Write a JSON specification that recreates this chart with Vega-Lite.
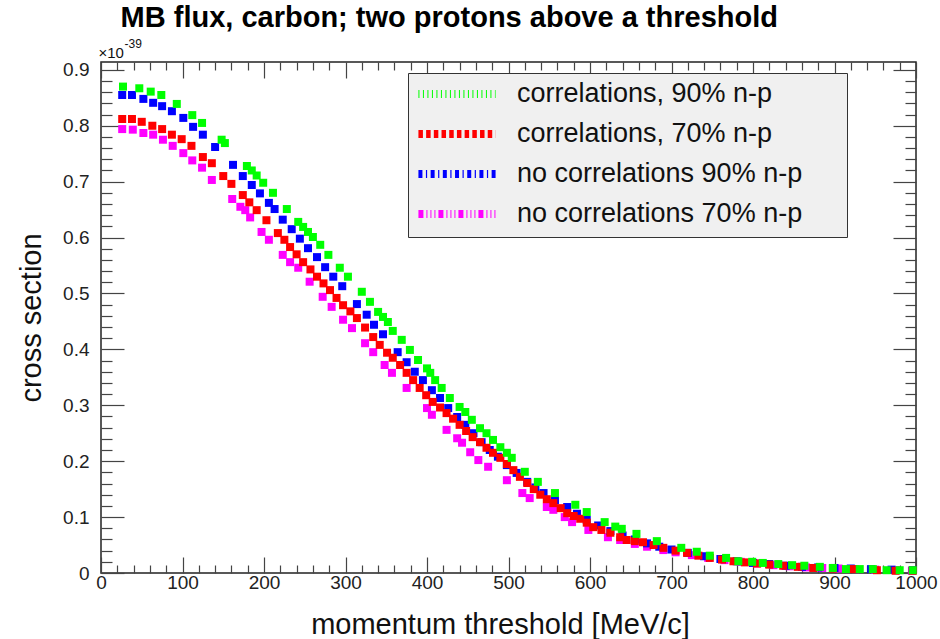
{
  "$schema": "https://vega.github.io/schema/vega-lite/v6.json",
  "width": 815,
  "height": 511,
  "autosize": {"type": "none"},
  "padding": {"left": 101, "top": 62, "right": 24, "bottom": 66},
  "background": "white",
  "title": {"text": "MB flux, carbon; two protons above a threshold", "anchor": "start", "dx": 103, "dy": 29, "fontSize": 29, "fontWeight": "bold", "font": "Liberation Sans", "color": "#000", "offset": 10, "baseline": "alphabetic"},
  "config": {
    "font": "Liberation Sans",
    "view": {"stroke": "#222", "strokeWidth": 1.5},
    "axis": {"domain": false, "grid": false, "labelFont": "Liberation Sans", "labelFontSize": 19, "labelColor": "#222", "tickColor": "#444", "tickWidth": 1.2, "titleFont": "Liberation Sans", "titleFontWeight": "normal", "titleColor": "#111", "titleFontSize": 29, "labelOverlap": false, "labelFlush": false},
    "legend": {"orient": "none", "legendX": 307, "legendY": 11, "symbolType": "M-4,0H4", "symbolSize": 372, "symbolStrokeWidth": 8, "labelFontSize": 27, "labelFont": "Liberation Sans", "labelColor": "#111", "fillColor": "#f0f0f0", "strokeColor": "#333", "padding": 7, "rowPadding": 8, "symbolOffset": 28, "labelOffset": 46, "labelLimit": 600, "titleOrient": "right", "titlePadding": 38, "titleFontSize": 10, "titleColor": "#f0f0f0"}
  },
  "datasets": {
    "low": [
      {"series": "no correlations 70% n-p", "p": 26, "xs": 0.794},
      {"series": "no correlations 70% n-p", "p": 39, "xs": 0.793},
      {"series": "no correlations 70% n-p", "p": 52, "xs": 0.787},
      {"series": "no correlations 70% n-p", "p": 64, "xs": 0.784},
      {"series": "no correlations 70% n-p", "p": 76, "xs": 0.775},
      {"series": "no correlations 70% n-p", "p": 88, "xs": 0.764},
      {"series": "no correlations 70% n-p", "p": 101, "xs": 0.751},
      {"series": "no correlations 70% n-p", "p": 112, "xs": 0.738},
      {"series": "no correlations 70% n-p", "p": 124, "xs": 0.725},
      {"series": "no correlations 70% n-p", "p": 136, "xs": 0.703},
      {"series": "no correlations 70% n-p", "p": 161, "xs": 0.669},
      {"series": "no correlations 70% n-p", "p": 171, "xs": 0.655},
      {"series": "no correlations 70% n-p", "p": 177, "xs": 0.649},
      {"series": "no correlations 70% n-p", "p": 183, "xs": 0.636},
      {"series": "no correlations 70% n-p", "p": 197, "xs": 0.610},
      {"series": "no correlations 70% n-p", "p": 206, "xs": 0.596},
      {"series": "no correlations 70% n-p", "p": 223, "xs": 0.569},
      {"series": "no correlations 70% n-p", "p": 232, "xs": 0.556},
      {"series": "no correlations 70% n-p", "p": 242, "xs": 0.546},
      {"series": "no correlations 70% n-p", "p": 256, "xs": 0.521},
      {"series": "no correlations 70% n-p", "p": 272, "xs": 0.494},
      {"series": "no correlations 70% n-p", "p": 283, "xs": 0.476},
      {"series": "no correlations 70% n-p", "p": 297, "xs": 0.453},
      {"series": "no correlations 70% n-p", "p": 308, "xs": 0.438},
      {"series": "no correlations 70% n-p", "p": 324, "xs": 0.411},
      {"series": "no correlations 70% n-p", "p": 334, "xs": 0.395},
      {"series": "no correlations 70% n-p", "p": 348, "xs": 0.372},
      {"series": "no correlations 70% n-p", "p": 357, "xs": 0.358},
      {"series": "no correlations 70% n-p", "p": 375, "xs": 0.331},
      {"series": "no correlations 70% n-p", "p": 400, "xs": 0.295},
      {"series": "no correlations 70% n-p", "p": 406, "xs": 0.283},
      {"series": "no correlations 70% n-p", "p": 424, "xs": 0.256},
      {"series": "no correlations 70% n-p", "p": 437, "xs": 0.241},
      {"series": "no correlations 70% n-p", "p": 443, "xs": 0.233},
      {"series": "no correlations 70% n-p", "p": 453, "xs": 0.216},
      {"series": "no correlations 70% n-p", "p": 463, "xs": 0.202},
      {"series": "no correlations 70% n-p", "p": 475, "xs": 0.190},
      {"series": "no correlations 70% n-p", "p": 498, "xs": 0.166},
      {"series": "no correlations 70% n-p", "p": 517, "xs": 0.143},
      {"series": "no correlations 70% n-p", "p": 526, "xs": 0.134},
      {"series": "no correlations 70% n-p", "p": 547, "xs": 0.118},
      {"series": "no correlations 70% n-p", "p": 555, "xs": 0.113},
      {"series": "no correlations 70% n-p", "p": 569, "xs": 0.100},
      {"series": "no correlations 70% n-p", "p": 578, "xs": 0.091},
      {"series": "no correlations 70% n-p", "p": 598, "xs": 0.077},
      {"series": "no correlations 70% n-p", "p": 622, "xs": 0.064},
      {"series": "no correlations 70% n-p", "p": 637, "xs": 0.059},
      {"series": "no correlations 70% n-p", "p": 655, "xs": 0.052},
      {"series": "no correlations 70% n-p", "p": 670, "xs": 0.047},
      {"series": "no correlations 70% n-p", "p": 690, "xs": 0.041},
      {"series": "no correlations 70% n-p", "p": 705, "xs": 0.037},
      {"series": "no correlations 70% n-p", "p": 725, "xs": 0.032},
      {"series": "no correlations 70% n-p", "p": 745, "xs": 0.027},
      {"series": "no correlations 70% n-p", "p": 765, "xs": 0.023},
      {"series": "no correlations 70% n-p", "p": 785, "xs": 0.020},
      {"series": "no correlations 70% n-p", "p": 805, "xs": 0.017},
      {"series": "no correlations 70% n-p", "p": 825, "xs": 0.014},
      {"series": "no correlations 70% n-p", "p": 845, "xs": 0.012},
      {"series": "no correlations 70% n-p", "p": 865, "xs": 0.010},
      {"series": "no correlations 70% n-p", "p": 885, "xs": 0.009},
      {"series": "no correlations 70% n-p", "p": 905, "xs": 0.008},
      {"series": "no correlations 70% n-p", "p": 925, "xs": 0.007},
      {"series": "no correlations 70% n-p", "p": 950, "xs": 0.006},
      {"series": "no correlations 70% n-p", "p": 975, "xs": 0.005},
      {"series": "no correlations 70% n-p", "p": 995, "xs": 0.004},
      {"series": "no correlations 90% n-p", "p": 26, "xs": 0.855},
      {"series": "no correlations 90% n-p", "p": 38, "xs": 0.855},
      {"series": "no correlations 90% n-p", "p": 52, "xs": 0.848},
      {"series": "no correlations 90% n-p", "p": 64, "xs": 0.841},
      {"series": "no correlations 90% n-p", "p": 75, "xs": 0.835},
      {"series": "no correlations 90% n-p", "p": 87, "xs": 0.826},
      {"series": "no correlations 90% n-p", "p": 101, "xs": 0.814},
      {"series": "no correlations 90% n-p", "p": 113, "xs": 0.798},
      {"series": "no correlations 90% n-p", "p": 125, "xs": 0.784},
      {"series": "no correlations 90% n-p", "p": 140, "xs": 0.762},
      {"series": "no correlations 90% n-p", "p": 162, "xs": 0.730},
      {"series": "no correlations 90% n-p", "p": 174, "xs": 0.710},
      {"series": "no correlations 90% n-p", "p": 185, "xs": 0.694},
      {"series": "no correlations 90% n-p", "p": 195, "xs": 0.679},
      {"series": "no correlations 90% n-p", "p": 206, "xs": 0.662},
      {"series": "no correlations 90% n-p", "p": 213, "xs": 0.651},
      {"series": "no correlations 90% n-p", "p": 223, "xs": 0.632},
      {"series": "no correlations 90% n-p", "p": 234, "xs": 0.615},
      {"series": "no correlations 90% n-p", "p": 244, "xs": 0.598},
      {"series": "no correlations 90% n-p", "p": 254, "xs": 0.581},
      {"series": "no correlations 90% n-p", "p": 265, "xs": 0.565},
      {"series": "no correlations 90% n-p", "p": 275, "xs": 0.547},
      {"series": "no correlations 90% n-p", "p": 285, "xs": 0.530},
      {"series": "no correlations 90% n-p", "p": 296, "xs": 0.513},
      {"series": "no correlations 90% n-p", "p": 314, "xs": 0.481},
      {"series": "no correlations 90% n-p", "p": 326, "xs": 0.462},
      {"series": "no correlations 90% n-p", "p": 335, "xs": 0.444},
      {"series": "no correlations 90% n-p", "p": 346, "xs": 0.427},
      {"series": "no correlations 90% n-p", "p": 364, "xs": 0.395},
      {"series": "no correlations 90% n-p", "p": 375, "xs": 0.377},
      {"series": "no correlations 90% n-p", "p": 385, "xs": 0.360},
      {"series": "no correlations 90% n-p", "p": 395, "xs": 0.345},
      {"series": "no correlations 90% n-p", "p": 406, "xs": 0.327},
      {"series": "no correlations 90% n-p", "p": 416, "xs": 0.313},
      {"series": "no correlations 90% n-p", "p": 426, "xs": 0.295},
      {"series": "no correlations 90% n-p", "p": 437, "xs": 0.279},
      {"series": "no correlations 90% n-p", "p": 447, "xs": 0.265},
      {"series": "no correlations 90% n-p", "p": 457, "xs": 0.250},
      {"series": "no correlations 90% n-p", "p": 467, "xs": 0.234},
      {"series": "no correlations 90% n-p", "p": 477, "xs": 0.220},
      {"series": "no correlations 90% n-p", "p": 487, "xs": 0.208},
      {"series": "no correlations 90% n-p", "p": 498, "xs": 0.193},
      {"series": "no correlations 90% n-p", "p": 510, "xs": 0.179},
      {"series": "no correlations 90% n-p", "p": 523, "xs": 0.163},
      {"series": "no correlations 90% n-p", "p": 533, "xs": 0.153},
      {"series": "no correlations 90% n-p", "p": 543, "xs": 0.143},
      {"series": "no correlations 90% n-p", "p": 557, "xs": 0.130},
      {"series": "no correlations 90% n-p", "p": 572, "xs": 0.118},
      {"series": "no correlations 90% n-p", "p": 584, "xs": 0.106},
      {"series": "no correlations 90% n-p", "p": 596, "xs": 0.095},
      {"series": "no correlations 90% n-p", "p": 610, "xs": 0.085},
      {"series": "no correlations 90% n-p", "p": 625, "xs": 0.075},
      {"series": "no correlations 90% n-p", "p": 640, "xs": 0.067},
      {"series": "no correlations 90% n-p", "p": 655, "xs": 0.060},
      {"series": "no correlations 90% n-p", "p": 670, "xs": 0.053},
      {"series": "no correlations 90% n-p", "p": 685, "xs": 0.047},
      {"series": "no correlations 90% n-p", "p": 700, "xs": 0.042},
      {"series": "no correlations 90% n-p", "p": 720, "xs": 0.036},
      {"series": "no correlations 90% n-p", "p": 740, "xs": 0.030},
      {"series": "no correlations 90% n-p", "p": 760, "xs": 0.025},
      {"series": "no correlations 90% n-p", "p": 780, "xs": 0.021},
      {"series": "no correlations 90% n-p", "p": 800, "xs": 0.018},
      {"series": "no correlations 90% n-p", "p": 820, "xs": 0.016},
      {"series": "no correlations 90% n-p", "p": 840, "xs": 0.013},
      {"series": "no correlations 90% n-p", "p": 860, "xs": 0.011},
      {"series": "no correlations 90% n-p", "p": 880, "xs": 0.010},
      {"series": "no correlations 90% n-p", "p": 900, "xs": 0.009},
      {"series": "no correlations 90% n-p", "p": 920, "xs": 0.008},
      {"series": "no correlations 90% n-p", "p": 945, "xs": 0.007},
      {"series": "no correlations 90% n-p", "p": 970, "xs": 0.006},
      {"series": "no correlations 90% n-p", "p": 996, "xs": 0.005}
    ],
    "high": [
      {"series": "correlations, 70% n-p", "p": 26, "xs": 0.812},
      {"series": "correlations, 70% n-p", "p": 38, "xs": 0.812},
      {"series": "correlations, 70% n-p", "p": 50, "xs": 0.807},
      {"series": "correlations, 70% n-p", "p": 63, "xs": 0.800},
      {"series": "correlations, 70% n-p", "p": 75, "xs": 0.794},
      {"series": "correlations, 70% n-p", "p": 87, "xs": 0.784},
      {"series": "correlations, 70% n-p", "p": 99, "xs": 0.776},
      {"series": "correlations, 70% n-p", "p": 111, "xs": 0.764},
      {"series": "correlations, 70% n-p", "p": 125, "xs": 0.744},
      {"series": "correlations, 70% n-p", "p": 136, "xs": 0.733},
      {"series": "correlations, 70% n-p", "p": 150, "xs": 0.710},
      {"series": "correlations, 70% n-p", "p": 160, "xs": 0.696},
      {"series": "correlations, 70% n-p", "p": 174, "xs": 0.676},
      {"series": "correlations, 70% n-p", "p": 182, "xs": 0.663},
      {"series": "correlations, 70% n-p", "p": 191, "xs": 0.649},
      {"series": "correlations, 70% n-p", "p": 203, "xs": 0.631},
      {"series": "correlations, 70% n-p", "p": 217, "xs": 0.608},
      {"series": "correlations, 70% n-p", "p": 225, "xs": 0.596},
      {"series": "correlations, 70% n-p", "p": 232, "xs": 0.583},
      {"series": "correlations, 70% n-p", "p": 240, "xs": 0.570},
      {"series": "correlations, 70% n-p", "p": 248, "xs": 0.556},
      {"series": "correlations, 70% n-p", "p": 257, "xs": 0.543},
      {"series": "correlations, 70% n-p", "p": 265, "xs": 0.530},
      {"series": "correlations, 70% n-p", "p": 273, "xs": 0.518},
      {"series": "correlations, 70% n-p", "p": 281, "xs": 0.506},
      {"series": "correlations, 70% n-p", "p": 289, "xs": 0.492},
      {"series": "correlations, 70% n-p", "p": 297, "xs": 0.479},
      {"series": "correlations, 70% n-p", "p": 306, "xs": 0.468},
      {"series": "correlations, 70% n-p", "p": 314, "xs": 0.456},
      {"series": "correlations, 70% n-p", "p": 324, "xs": 0.439},
      {"series": "correlations, 70% n-p", "p": 334, "xs": 0.422},
      {"series": "correlations, 70% n-p", "p": 342, "xs": 0.408},
      {"series": "correlations, 70% n-p", "p": 351, "xs": 0.394},
      {"series": "correlations, 70% n-p", "p": 358, "xs": 0.385},
      {"series": "correlations, 70% n-p", "p": 367, "xs": 0.372},
      {"series": "correlations, 70% n-p", "p": 375, "xs": 0.358},
      {"series": "correlations, 70% n-p", "p": 383, "xs": 0.345},
      {"series": "correlations, 70% n-p", "p": 391, "xs": 0.331},
      {"series": "correlations, 70% n-p", "p": 399, "xs": 0.318},
      {"series": "correlations, 70% n-p", "p": 407, "xs": 0.306},
      {"series": "correlations, 70% n-p", "p": 416, "xs": 0.296},
      {"series": "correlations, 70% n-p", "p": 424, "xs": 0.286},
      {"series": "correlations, 70% n-p", "p": 432, "xs": 0.276},
      {"series": "correlations, 70% n-p", "p": 440, "xs": 0.265},
      {"series": "correlations, 70% n-p", "p": 448, "xs": 0.254},
      {"series": "correlations, 70% n-p", "p": 456, "xs": 0.243},
      {"series": "correlations, 70% n-p", "p": 465, "xs": 0.234},
      {"series": "correlations, 70% n-p", "p": 473, "xs": 0.224},
      {"series": "correlations, 70% n-p", "p": 481, "xs": 0.215},
      {"series": "correlations, 70% n-p", "p": 490, "xs": 0.206},
      {"series": "correlations, 70% n-p", "p": 498, "xs": 0.195},
      {"series": "correlations, 70% n-p", "p": 506, "xs": 0.184},
      {"series": "correlations, 70% n-p", "p": 514, "xs": 0.172},
      {"series": "correlations, 70% n-p", "p": 523, "xs": 0.161},
      {"series": "correlations, 70% n-p", "p": 531, "xs": 0.150},
      {"series": "correlations, 70% n-p", "p": 539, "xs": 0.140},
      {"series": "correlations, 70% n-p", "p": 547, "xs": 0.132},
      {"series": "correlations, 70% n-p", "p": 555, "xs": 0.125},
      {"series": "correlations, 70% n-p", "p": 564, "xs": 0.116},
      {"series": "correlations, 70% n-p", "p": 572, "xs": 0.107},
      {"series": "correlations, 70% n-p", "p": 580, "xs": 0.102},
      {"series": "correlations, 70% n-p", "p": 588, "xs": 0.097},
      {"series": "correlations, 70% n-p", "p": 596, "xs": 0.090},
      {"series": "correlations, 70% n-p", "p": 604, "xs": 0.082},
      {"series": "correlations, 70% n-p", "p": 614, "xs": 0.077},
      {"series": "correlations, 70% n-p", "p": 625, "xs": 0.072},
      {"series": "correlations, 70% n-p", "p": 637, "xs": 0.064},
      {"series": "correlations, 70% n-p", "p": 645, "xs": 0.059},
      {"series": "correlations, 70% n-p", "p": 655, "xs": 0.057},
      {"series": "correlations, 70% n-p", "p": 665, "xs": 0.055},
      {"series": "correlations, 70% n-p", "p": 678, "xs": 0.050},
      {"series": "correlations, 70% n-p", "p": 690, "xs": 0.045},
      {"series": "correlations, 70% n-p", "p": 705, "xs": 0.040},
      {"series": "correlations, 70% n-p", "p": 719, "xs": 0.036},
      {"series": "correlations, 70% n-p", "p": 733, "xs": 0.031},
      {"series": "correlations, 70% n-p", "p": 747, "xs": 0.027},
      {"series": "correlations, 70% n-p", "p": 762, "xs": 0.024},
      {"series": "correlations, 70% n-p", "p": 776, "xs": 0.021},
      {"series": "correlations, 70% n-p", "p": 790, "xs": 0.019},
      {"series": "correlations, 70% n-p", "p": 805, "xs": 0.017},
      {"series": "correlations, 70% n-p", "p": 820, "xs": 0.015},
      {"series": "correlations, 70% n-p", "p": 837, "xs": 0.013},
      {"series": "correlations, 70% n-p", "p": 855, "xs": 0.011},
      {"series": "correlations, 70% n-p", "p": 874, "xs": 0.009},
      {"series": "correlations, 70% n-p", "p": 898, "xs": 0.008},
      {"series": "correlations, 70% n-p", "p": 923, "xs": 0.007},
      {"series": "correlations, 70% n-p", "p": 952, "xs": 0.005},
      {"series": "correlations, 70% n-p", "p": 975, "xs": 0.004},
      {"series": "correlations, 70% n-p", "p": 996, "xs": 0.004},
      {"series": "correlations, 90% n-p", "p": 27, "xs": 0.870},
      {"series": "correlations, 90% n-p", "p": 47, "xs": 0.867},
      {"series": "correlations, 90% n-p", "p": 61, "xs": 0.861},
      {"series": "correlations, 90% n-p", "p": 74, "xs": 0.855},
      {"series": "correlations, 90% n-p", "p": 93, "xs": 0.839},
      {"series": "correlations, 90% n-p", "p": 112, "xs": 0.819},
      {"series": "correlations, 90% n-p", "p": 124, "xs": 0.805},
      {"series": "correlations, 90% n-p", "p": 148, "xs": 0.775},
      {"series": "correlations, 90% n-p", "p": 152, "xs": 0.769},
      {"series": "correlations, 90% n-p", "p": 179, "xs": 0.728},
      {"series": "correlations, 90% n-p", "p": 185, "xs": 0.720},
      {"series": "correlations, 90% n-p", "p": 191, "xs": 0.711},
      {"series": "correlations, 90% n-p", "p": 199, "xs": 0.698},
      {"series": "correlations, 90% n-p", "p": 211, "xs": 0.680},
      {"series": "correlations, 90% n-p", "p": 228, "xs": 0.651},
      {"series": "correlations, 90% n-p", "p": 242, "xs": 0.628},
      {"series": "correlations, 90% n-p", "p": 248, "xs": 0.619},
      {"series": "correlations, 90% n-p", "p": 254, "xs": 0.610},
      {"series": "correlations, 90% n-p", "p": 260, "xs": 0.601},
      {"series": "correlations, 90% n-p", "p": 269, "xs": 0.587},
      {"series": "correlations, 90% n-p", "p": 279, "xs": 0.569},
      {"series": "correlations, 90% n-p", "p": 293, "xs": 0.546},
      {"series": "correlations, 90% n-p", "p": 303, "xs": 0.530},
      {"series": "correlations, 90% n-p", "p": 320, "xs": 0.503},
      {"series": "correlations, 90% n-p", "p": 330, "xs": 0.485},
      {"series": "correlations, 90% n-p", "p": 340, "xs": 0.467},
      {"series": "correlations, 90% n-p", "p": 346, "xs": 0.458},
      {"series": "correlations, 90% n-p", "p": 352, "xs": 0.449},
      {"series": "correlations, 90% n-p", "p": 358, "xs": 0.433},
      {"series": "correlations, 90% n-p", "p": 369, "xs": 0.417},
      {"series": "correlations, 90% n-p", "p": 379, "xs": 0.399},
      {"series": "correlations, 90% n-p", "p": 389, "xs": 0.381},
      {"series": "correlations, 90% n-p", "p": 400, "xs": 0.366},
      {"series": "correlations, 90% n-p", "p": 404, "xs": 0.358},
      {"series": "correlations, 90% n-p", "p": 410, "xs": 0.345},
      {"series": "correlations, 90% n-p", "p": 418, "xs": 0.331},
      {"series": "correlations, 90% n-p", "p": 428, "xs": 0.313},
      {"series": "correlations, 90% n-p", "p": 440, "xs": 0.297},
      {"series": "correlations, 90% n-p", "p": 447, "xs": 0.288},
      {"series": "correlations, 90% n-p", "p": 455, "xs": 0.274},
      {"series": "correlations, 90% n-p", "p": 465, "xs": 0.259},
      {"series": "correlations, 90% n-p", "p": 473, "xs": 0.250},
      {"series": "correlations, 90% n-p", "p": 481, "xs": 0.238},
      {"series": "correlations, 90% n-p", "p": 490, "xs": 0.225},
      {"series": "correlations, 90% n-p", "p": 498, "xs": 0.215},
      {"series": "correlations, 90% n-p", "p": 504, "xs": 0.206},
      {"series": "correlations, 90% n-p", "p": 520, "xs": 0.181},
      {"series": "correlations, 90% n-p", "p": 536, "xs": 0.163},
      {"series": "correlations, 90% n-p", "p": 557, "xs": 0.143},
      {"series": "correlations, 90% n-p", "p": 582, "xs": 0.122},
      {"series": "correlations, 90% n-p", "p": 596, "xs": 0.109},
      {"series": "correlations, 90% n-p", "p": 618, "xs": 0.091},
      {"series": "correlations, 90% n-p", "p": 631, "xs": 0.083},
      {"series": "correlations, 90% n-p", "p": 639, "xs": 0.079},
      {"series": "correlations, 90% n-p", "p": 657, "xs": 0.070},
      {"series": "correlations, 90% n-p", "p": 682, "xs": 0.057},
      {"series": "correlations, 90% n-p", "p": 712, "xs": 0.045},
      {"series": "correlations, 90% n-p", "p": 731, "xs": 0.038},
      {"series": "correlations, 90% n-p", "p": 747, "xs": 0.031},
      {"series": "correlations, 90% n-p", "p": 767, "xs": 0.027},
      {"series": "correlations, 90% n-p", "p": 782, "xs": 0.021},
      {"series": "correlations, 90% n-p", "p": 799, "xs": 0.020},
      {"series": "correlations, 90% n-p", "p": 812, "xs": 0.018},
      {"series": "correlations, 90% n-p", "p": 831, "xs": 0.016},
      {"series": "correlations, 90% n-p", "p": 848, "xs": 0.014},
      {"series": "correlations, 90% n-p", "p": 863, "xs": 0.013},
      {"series": "correlations, 90% n-p", "p": 882, "xs": 0.011},
      {"series": "correlations, 90% n-p", "p": 898, "xs": 0.009},
      {"series": "correlations, 90% n-p", "p": 914, "xs": 0.007},
      {"series": "correlations, 90% n-p", "p": 931, "xs": 0.007},
      {"series": "correlations, 90% n-p", "p": 947, "xs": 0.007},
      {"series": "correlations, 90% n-p", "p": 964, "xs": 0.005},
      {"series": "correlations, 90% n-p", "p": 980, "xs": 0.005},
      {"series": "correlations, 90% n-p", "p": 996, "xs": 0.005}
    ]
  },
  "layer": [
    {
      "data": {"name": "low"},
      "mark": {"type": "point", "shape": "square", "filled": true, "size": 64, "opacity": 1},
      "encoding": {
        "x": {"field": "p", "type": "quantitative", "scale": {"domain": [0, 1000], "nice": false, "zero": false},
          "axis": {"orient": "bottom", "values": [0,20,40,60,80,100,120,140,160,180,200,220,240,260,280,300,320,340,360,380,400,420,440,460,480,500,520,540,560,580,600,620,640,660,680,700,720,740,760,780,800,820,840,860,880,900,920,940,960,980,1000],
            "tickSize": {"condition": {"test": "datum.value % 100 === 0", "value": -16}, "value": -8},
            "labelExpr": "datum.value % 100 === 0 ? format(datum.value, 'd') : ''",
            "labelPadding": 16, "title": "momentum threshold [MeV/c]", "titleAnchor": "middle", "titleX": 399, "titlePadding": 10}},
        "y": {"field": "xs", "type": "quantitative", "scale": {"domain": [0, 0.914], "nice": false, "zero": true},
          "axis": {"orient": "left", "values": [0,0.02,0.04,0.06,0.08,0.1,0.12,0.14,0.16,0.18,0.2,0.22,0.24,0.26,0.28,0.3,0.32,0.34,0.36,0.38,0.4,0.42,0.44,0.46,0.48,0.5,0.52,0.54,0.56,0.58,0.6,0.62,0.64,0.66,0.68,0.7,0.72,0.74,0.76,0.78,0.8,0.82,0.84,0.86,0.88,0.9],
            "tickSize": {"condition": {"test": "abs(datum.value*10 - round(datum.value*10)) < 0.001", "value": -23}, "value": -11},
            "labelExpr": "abs(datum.value*10 - round(datum.value*10)) < 0.001 ? (datum.value == 0 ? '0' : format(datum.value, '.1f')) : ''",
            "labelPadding": 35, "title": "cross section", "titlePadding": 16}},
        "color": {"field": "series", "type": "nominal", "scale": {"domain": ["correlations, 90% n-p", "correlations, 70% n-p", "no correlations 90% n-p", "no correlations 70% n-p"], "range": ["#00ff00", "#ff0000", "#0000ff", "#ff00ff"]}, "legend": {"title": "\u00a0"}},
        "stroke": {"field": "series", "type": "nominal", "scale": {"domain": ["correlations, 90% n-p", "correlations, 70% n-p", "no correlations 90% n-p", "no correlations 70% n-p"], "range": ["#00ff00", "#ff0000", "#0000ff", "#ff00ff"]}, "legend": {"title": "\u00a0"}},
        "strokeDash": {"field": "series", "type": "nominal", "scale": {"domain": ["correlations, 90% n-p", "correlations, 70% n-p", "no correlations 90% n-p", "no correlations 70% n-p"], "range": [[1, 3.5], [4.5, 3.2], [4, 3.5, 1.2, 3.5], [5, 3, 1, 3, 1, 3, 1, 3]]}, "legend": {"title": "\u00a0"}},
        "strokeOpacity": {"value": 0}
      }
    },
    {
      "data": {"name": "high"},
      "mark": {"type": "point", "shape": "square", "filled": true, "size": 64, "opacity": 1},
      "encoding": {
        "x": {"field": "p", "type": "quantitative",
          "axis": {"orient": "top", "values": [0,20,40,60,80,100,120,140,160,180,200,220,240,260,280,300,320,340,360,380,400,420,440,460,480,500,520,540,560,580,600,620,640,660,680,700,720,740,760,780,800,820,840,860,880,900,920,940,960,980,1000],
            "tickSize": {"condition": {"test": "datum.value % 100 === 0", "value": -16}, "value": -8},
            "labels": false, "title": "-39", "titleFontSize": 12, "titleAngle": 0, "titleAlign": "left", "titleBaseline": "alphabetic", "titleX": 23, "titleY": -15}},
        "y": {"field": "xs", "type": "quantitative",
          "axis": {"orient": "right", "values": [0,0.02,0.04,0.06,0.08,0.1,0.12,0.14,0.16,0.18,0.2,0.22,0.24,0.26,0.28,0.3,0.32,0.34,0.36,0.38,0.4,0.42,0.44,0.46,0.48,0.5,0.52,0.54,0.56,0.58,0.6,0.62,0.64,0.66,0.68,0.7,0.72,0.74,0.76,0.78,0.8,0.82,0.84,0.86,0.88,0.9],
            "tickSize": {"condition": {"test": "abs(datum.value*10 - round(datum.value*10)) < 0.001", "value": -23}, "value": -11},
            "labels": false, "title": "×10", "titleFontSize": 15, "titleAngle": 0, "titleAlign": "left", "titleBaseline": "alphabetic", "titleX": -818, "titleY": -5}},
        "color": {"field": "series", "type": "nominal", "legend": {"title": "\u00a0"}},
        "stroke": {"field": "series", "type": "nominal", "legend": {"title": "\u00a0"}},
        "strokeDash": {"field": "series", "type": "nominal", "legend": {"title": "\u00a0"}},
        "strokeOpacity": {"value": 0}
      }
    }
  ],
  "resolve": {"axis": {"x": "independent", "y": "independent"}}
}
